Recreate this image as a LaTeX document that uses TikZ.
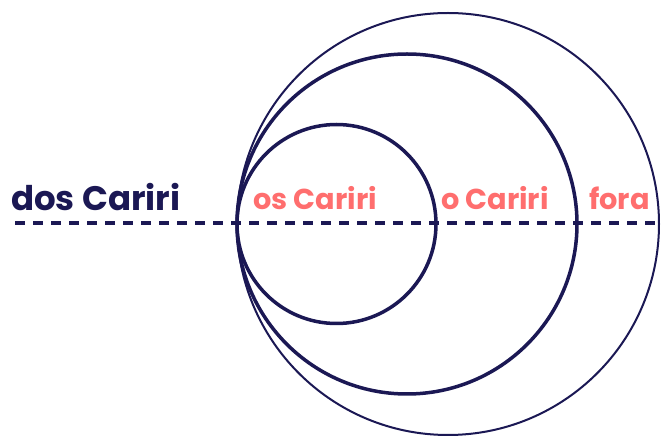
\documentclass[tikz,border=0pt]{standalone}
\usepackage{fontspec}
\setmainfont{Poppins}
\definecolor{navy}{HTML}{1B1854}
\definecolor{coral}{HTML}{FF6E6E}
\begin{document}
\begin{tikzpicture}[x=1pt,y=-1pt,
  ring/.style={draw=navy},
  lbl/.style={font=\bfseries\fontsize{28.8}{30}\selectfont, inner sep=0pt, anchor=base west},
]
\useasboundingbox (0,0) rectangle (662,438);
\draw[navy, line width=3.5pt, dash pattern=on 10pt off 8pt] (15,223) coordinate (ls) -- (660,223) coordinate (le);
\draw[ring, line width=2pt] (448,224) circle (211);
\draw[ring, line width=3.5pt] (407,224) circle (170);
\draw[ring, line width=3.5pt] (336.5,224) circle (99.5);
\node[lbl, text=navy, font=\bfseries\fontsize{34}{36}\selectfont] (a) at (11,211) {dos Cariri};
\node[lbl, text=coral] (b) at (253,210) {os Cariri};
\node[lbl, text=coral] (c) at (441,210) {o Cariri};
\node[lbl, text=coral] (d) at (589,210) {fora};
\end{tikzpicture}
\end{document}
